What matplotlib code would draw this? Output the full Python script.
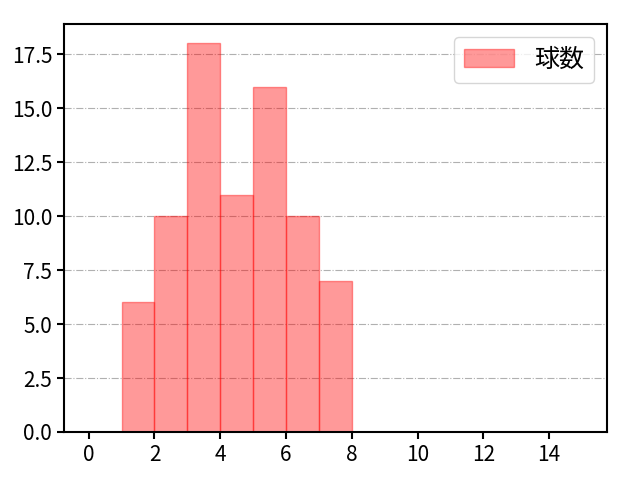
import matplotlib
matplotlib.use('Agg')
from matplotlib import pyplot as plt
import numpy as np

plt.rcParams['font.family'] = ['Noto Sans CJK JP', 'DejaVu Sans']
plt.rcParams['font.size'] = 15

# 球数の分布 (bin 0..15)
bin_edges = list(range(0, 16))
counts = [0, 6, 10, 18, 11, 16, 10, 7, 0, 0, 0, 0, 0, 0, 0]
label = '球数'

fig, ax = plt.subplots(figsize=(6.4, 4.8), dpi=100)
fig.subplots_adjust(left=0.1, right=0.948, top=0.95, bottom=0.1)
ax.hist(bin_edges[:-1], bins=bin_edges, weights=counts,
        color='red', alpha=0.4, edgecolor='red', linewidth=1, label=label)
ax.set_axisbelow(True)
ax.grid(True, axis='y', linestyle='-.', color='#b0b0b0')
ax.set_xticks(np.arange(0, 15, 2))
ax.legend(loc='upper right', fontsize=18)
for s in ax.spines.values():
    s.set_linewidth(1.5)
ax.tick_params(width=1.5, length=5)

plt.savefig('out.png')
